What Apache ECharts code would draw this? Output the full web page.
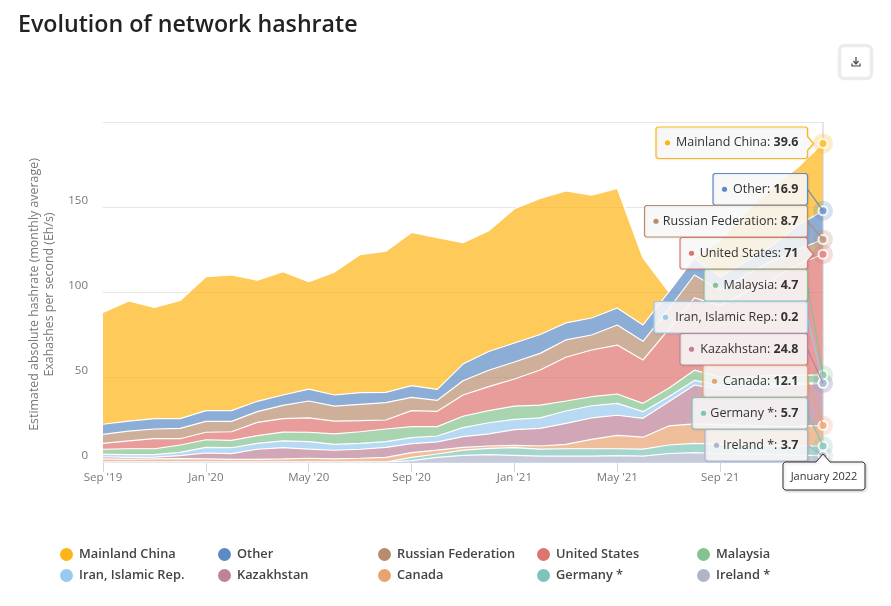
<!DOCTYPE html>
<html><head><meta charset="utf-8">
<style>html,body{margin:0;padding:0;background:#fff}#c{width:891px;height:606px}</style>
<script src="https://cdn.jsdelivr.net/npm/echarts@6/dist/echarts.min.js"></script>
</head><body><div id="c"></div>
<script>
const months = ["Sep '19","Oct '19","Nov '19","Dec '19","Jan '20","Feb '20","Mar '20","Apr '20","May '20","Jun '20","Jul '20","Aug '20","Sep '20","Oct '20","Nov '20","Dec '20","Jan '21","Feb '21","Mar '21","Apr '21","May '21","Jun '21","Jul '21","Aug '21","Sep '21","Oct '21","Nov '21","Dec '21","Jan '22"];
const ireland = [0,0,0,0,0,0,0,0,0,0,0,0,0.8,2.7,3.9,4.3,3.9,3.5,3.5,3.5,3.7,3.5,5,5.5,5,4.8,4.5,4,3.7];
const germany = [0,0,0,0,0,0,0,0,0,0,0,0,1.9,2,3.1,3.7,4.5,4.1,4.3,4.3,4.1,4.1,5,5.5,5.6,5.4,5.3,5.5,5.7];
const canada = [1.8,1.6,1.8,2,1.8,1.6,1.6,1.8,2.2,1.8,2.2,2.7,2.8,2.3,1.6,1.4,1.4,1.8,2.6,5.5,7.9,7,11.2,11.4,11.4,11.3,11.2,11.5,12.1];
const kazakhstan = [1.3,1.1,1.1,1.7,3.5,3.3,5.9,6.6,5.4,5.1,5.3,5.9,5.3,4.8,6.3,7.1,9.2,10.4,12.3,12.6,11.8,11.1,14.3,22.9,20.5,21.5,23,24.5,24.8];
const iran = [1.4,1.6,1.4,2,3.3,3.5,3.5,4,4.4,3.5,3.5,3.4,3.5,3.5,5.3,6.6,6.1,6.2,7.3,7.2,7,3.9,2.9,2.7,2.5,2,2,0.9,0.2];
const malaysia = [3,3.5,3.5,4.3,4.5,4.3,4.5,5.2,5.5,6.1,6.8,7.4,6.5,5.5,6.7,7.1,7.8,7.5,5.9,5.3,5.5,4.9,5,6,5,5,5,4.6,4.7];
const unitedStates = [3.5,4.6,5.9,3.7,4.4,5.1,7.8,7.9,8.5,7.6,6.5,5.3,9.4,9,12.5,14.1,15.9,20.6,25.7,27.5,28.8,25.5,34.6,42.5,42,50,56,65,71];
const russia = [5.3,5.8,5.7,6.1,6.4,6.1,6.3,7.8,9.9,8.8,9.6,10.2,7.8,6.5,8.4,9.7,10,9.8,10.2,8.8,11.8,11,12,13.5,9,10,11,9,8.7];
const other = [5.9,5.9,6.1,5.7,6.3,6.3,6.1,6.1,7,6.5,6.9,6.1,6.9,6.4,9.8,11,11.2,11.1,10,10,10,9.6,10,10,8,8,9,14,16.9];
const china = [65.8,70.6,65.5,69.5,78.8,79.8,71.3,72.6,63.1,72.3,81.2,83,90.1,89.3,71.4,71,79,80,77.7,72.3,70.4,39.4,0,0,21,29,34,34,39.6];

const stackOrder = [
  ["Ireland *", ireland, "#aeb4ca"],
  ["Germany *", germany, "#7fc4b8"],
  ["Canada", canada, "#e8a370"],
  ["Kazakhstan", kazakhstan, "#be8298"],
  ["Iran, Islamic Rep.", iran, "#99c9ee"],
  ["Malaysia", malaysia, "#85c28f"],
  ["United States", unitedStates, "#de7470"],
  ["Russian Federation", russia, "#b88d6f"],
  ["Other", other, "#5b8bc4"],
  ["Mainland China", china, "#fdb515"]
];
const legendNames = ["Mainland China","Other","Russian Federation","United States","Malaysia","Iran, Islamic Rep.","Kazakhstan","Canada","Germany *","Ireland *"];
const legendLeft = [60,218,378,537,697];
const legendTop = [547,568];
const boxes = {"Mainland China":[656,127],"Other":[713,173.5],"Russian Federation":[644.5,205.5],"United States":[680,237.5],"Malaysia":[704,269.5],"Iran, Islamic Rep.":[654,301.5],"Kazakhstan":[680,333.5],"Canada":[703,365.5],"Germany *":[692,397.5],"Ireland *":[705,429.5]};
const last = months.length-1;
const font = '"Open Sans", sans-serif';

let cum = 0; const anchors = stackOrder.map(([n,d,c])=>{cum+=d[last];return {name:n,val:d[last],color:c,cum};});

const series = stackOrder.map(([n,d,c])=>({
  name:n,type:'line',stack:'h',data:d,showSymbol:false,symbol:'none',
  lineStyle:{color:'#fff',width:1.2},itemStyle:{color:c},areaStyle:{color:c,opacity:0.7},
  emphasis:{disabled:true},z:2
}));
series.push({type:'scatter',data:anchors.map(a=>({value:[last,a.cum],itemStyle:{color:a.color,opacity:0.25}})),symbolSize:20,clip:false,z:4,silent:true});
series.push({type:'scatter',data:anchors.map(a=>({value:[last,a.cum],itemStyle:{color:'#fff'}})),symbolSize:11,clip:false,z:5,silent:true});
series.push({type:'scatter',data:anchors.map(a=>({value:[last,a.cum],itemStyle:{color:a.color}})),symbolSize:7,clip:false,z:6,silent:true});

const legends = legendNames.map((n,i)=>({
  show:true,data:[{name:n,icon:'circle'}],left:legendLeft[i%5],top:legendTop[Math.floor(i/5)]+1,
  itemWidth:13,itemHeight:13,itemGap:0,selectedMode:false,padding:0,
  textStyle:{fontFamily:font,fontSize:12.8,fontWeight:600,color:'#444',padding:[0,0,0,1]}
}));

const chart = echarts.init(document.getElementById('c'),null,{renderer:'canvas',width:891,height:606});
chart.setOption({
  animation:false,backgroundColor:'#fff',
  title:{text:'Evolution of network hashrate',left:18,top:14,padding:0,textStyle:{fontFamily:font,fontSize:23.2,fontWeight:600,color:'#222'}},
  legend:legends,
  grid:{left:103,right:68,top:122,bottom:144,containLabel:false},
  xAxis:{type:'category',data:months,boundaryGap:false,
    axisLine:{lineStyle:{color:'#ccd6eb',width:1}},
    axisTick:{show:true,length:10,interval:3,lineStyle:{color:'#ccd6eb'}},
    axisLabel:{interval:3,color:'#777',fontFamily:font,fontSize:11.5,margin:10,hideOverlap:false},splitLine:{show:false}},
  yAxis:{type:'value',min:0,max:200,interval:50,
    name:'Estimated absolute hashrate (monthly average)\nExahashes per second (Eh/s)',nameLocation:'middle',nameRotate:90,nameGap:30.5,
    nameTextStyle:{fontFamily:font,fontSize:12.4,color:'#777',lineHeight:15,padding:[0,5,0,0]},
    axisLine:{show:false},axisTick:{show:false},
    axisLabel:{color:'#777',fontFamily:font,fontSize:11.5,margin:15,verticalAlign:'bottom',lineHeight:12,formatter:v=>v===200?'':String(v)},
    splitLine:{lineStyle:{color:'#e6e6e6',width:1}}},
  series
});

const g = [];
const P = (v)=>chart.convertToPixel({xAxisIndex:0,yAxisIndex:0},[last,v]);
const crossX = P(0)[0];
g.push({type:'line',shape:{x1:crossX,y1:122,x2:crossX,y2:462},style:{stroke:'#cccccc',lineWidth:1},z:3});

const R = 807.5, H = 31.5;
anchors.slice().reverse().forEach((a,i)=>{
  const [L,T] = boxes[a.name];
  const [ax,ay] = P(a.cum);
  const B = T+H;
  const inside = ay>T+7 && ay<B-7;
  if(!inside){
    g.push({type:'line',shape:{x1:R,y1:T+H/2,x2:ax,y2:ay},style:{stroke:a.color,lineWidth:1.2},z:20+i*3});
  }
  const c=1.5;
  const pts=[[L+c,T],[R-c,T],[R,T+c]];
  if(inside) pts.push([R,ay-7],[R+6,ay],[R,ay+7]);
  pts.push([R,B-c],[R-c,B],[L+c,B],[L,B-c],[L,T+c]);
  g.push({type:'polygon',shape:{points:pts},style:{fill:'rgba(249,249,249,0.87)',stroke:a.color,lineWidth:1.2,shadowColor:'rgba(0,0,0,0.07)',shadowBlur:2,shadowOffsetX:1,shadowOffsetY:1},z:21+i*3});
  g.push({type:'circle',shape:{cx:L+11.5,cy:T+H/2,r:2.6},style:{fill:a.color},z:22+i*3});
  g.push({type:'text',x:798.5,y:T+H/2,z:22+i*3,style:{
    text:`{n|${a.name}: }{b|${a.val}}`,align:'right',verticalAlign:'middle',
    rich:{n:{fontFamily:font,fontSize:12.5,fill:'#333',color:'#333'},b:{fontFamily:font,fontSize:12.5,fontWeight:700,fill:'#333',color:'#333'}}
  }});
});

const fx=P(0)[0];
g.push({type:'polygon',shape:{points:[[785,462],[fx-7,462],[fx,454],[fx+7,462],[863,462],[865,464],[865,488],[863,490],[785,490],[783,488],[783,464]]},style:{fill:'#fff',stroke:'#333',lineWidth:1,shadowColor:'rgba(0,0,0,0.2)',shadowBlur:3,shadowOffsetX:1,shadowOffsetY:1},z:60});
g.push({type:'text',x:824,y:477,z:61,style:{text:'January 2022',fontFamily:font,fontSize:11,fill:'#333',align:'center',verticalAlign:'middle'}});

g.push({type:'rect',shape:{x:839.5,y:45.5,width:32,height:33,r:5},style:{fill:'#fff',stroke:'#ececec',lineWidth:3.5},z:10});
g.push({type:'polyline',shape:{points:[[856,57],[856,63.5]]},style:{stroke:'#444',lineWidth:1.2,fill:null},z:11});
g.push({type:'polyline',shape:{points:[[853.5,61],[856,64],[858.5,61]]},style:{stroke:'#444',lineWidth:1.2,fill:null},z:11});
g.push({type:'polyline',shape:{points:[[852,63.5],[852,66],[860,66],[860,63.5]]},style:{stroke:'#444',lineWidth:1.2,fill:null},z:11});

chart.setOption({graphic:g});
</script></body></html>
